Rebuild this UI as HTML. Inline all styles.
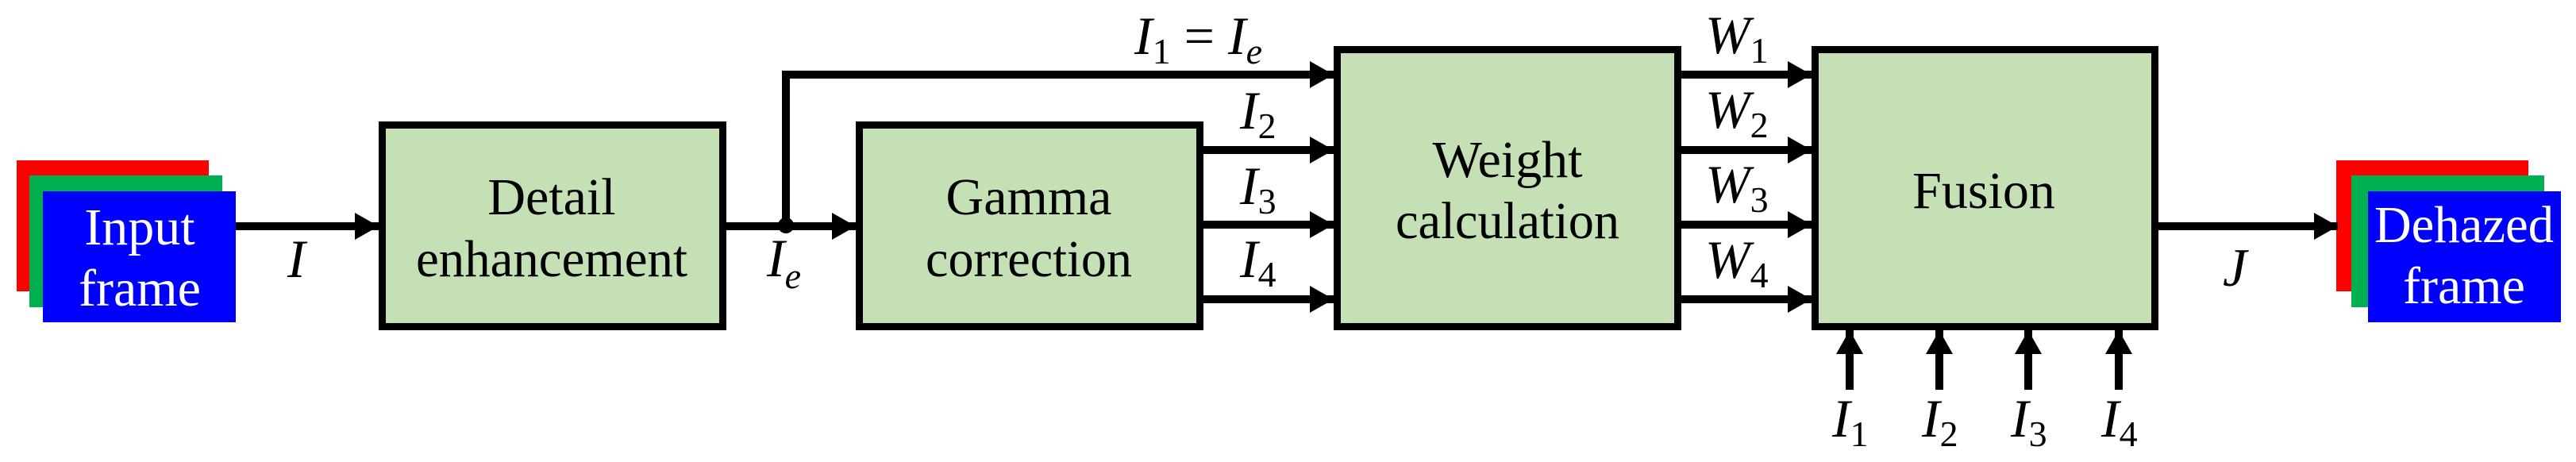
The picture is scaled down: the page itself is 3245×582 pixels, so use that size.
<!DOCTYPE html>
<html><head><meta charset="utf-8"><style>
html,body{margin:0;padding:0;background:#fff;}
svg{display:block}
svg text{font-family:"Liberation Serif","Times New Roman",Times,"DejaVu Serif","Noto Serif CJK SC",serif;}
</style></head><body>
<svg width="3245" height="582" viewBox="0 0 3245 582" xmlns="http://www.w3.org/2000/svg">
<defs>
<marker id="a" viewBox="0 0 30 34" refX="30" refY="17" markerWidth="30" markerHeight="34" markerUnits="userSpaceOnUse" orient="auto"><path d="M0,0 L30,17 L0,34 Z" fill="#000"/></marker>
</defs>
<rect x="21" y="202" width="242" height="165" fill="#ff0000"/>
<rect x="37" y="221" width="243" height="166" fill="#00b050"/>
<rect x="54" y="241" width="243" height="165" fill="#0000ff"/>
<g font-size="66" text-anchor="middle" fill="#fff">
<text x="176" y="308">Input</text>
<text x="176" y="385">frame</text>
</g>
<rect x="2943" y="202" width="242" height="165" fill="#ff0000"/>
<rect x="2962" y="221" width="243" height="166" fill="#00b050"/>
<rect x="2983" y="241" width="243" height="165" fill="#0000ff"/>
<g font-size="66" text-anchor="middle" fill="#fff">
<text x="3104" y="305" textLength="226" lengthAdjust="spacingAndGlyphs">Dehazed</text>
<text x="3104" y="382">frame</text>
</g>
<g fill="#c5e0b4" stroke="#000" stroke-width="9">
<rect x="481.5" y="157.5" width="429" height="254"/>
<rect x="1082.5" y="157.5" width="429" height="254"/>
<rect x="1684.5" y="62.5" width="429" height="349"/>
<rect x="2286.5" y="62.5" width="428" height="349"/>
</g>
<g font-size="66" text-anchor="middle" fill="#000">
<text x="695" y="270">Detail</text>
<text x="695" y="348" textLength="342" lengthAdjust="spacingAndGlyphs">enhancement</text>
<text x="1296" y="270">Gamma</text>
<text x="1296" y="348" textLength="260" lengthAdjust="spacingAndGlyphs">correction</text>
<text x="1899" y="223">Weight</text>
<text x="1899" y="300" textLength="282" lengthAdjust="spacingAndGlyphs">calculation</text>
<text x="2499" y="262">Fusion</text>
</g>
<g stroke="#000" stroke-width="10" fill="none">
<line x1="297" y1="285" x2="477" y2="285" marker-end="url(#a)"/>
<line x1="915" y1="285" x2="1078" y2="285" marker-end="url(#a)"/>
<polyline points="990,285 990,94 1680,94" marker-end="url(#a)"/>
<line x1="1516" y1="189" x2="1680" y2="189" marker-end="url(#a)"/>
<line x1="1516" y1="283" x2="1680" y2="283" marker-end="url(#a)"/>
<line x1="1516" y1="377" x2="1680" y2="377" marker-end="url(#a)"/>
<line x1="2118" y1="94" x2="2282" y2="94" marker-end="url(#a)"/>
<line x1="2118" y1="189" x2="2282" y2="189" marker-end="url(#a)"/>
<line x1="2118" y1="283" x2="2282" y2="283" marker-end="url(#a)"/>
<line x1="2118" y1="377" x2="2282" y2="377" marker-end="url(#a)"/>
<line x1="2719" y1="285" x2="2945" y2="285" marker-end="url(#a)"/>
<line x1="2330" y1="491" x2="2330" y2="416" marker-end="url(#a)"/>
<line x1="2443" y1="491" x2="2443" y2="416" marker-end="url(#a)"/>
<line x1="2555" y1="491" x2="2555" y2="416" marker-end="url(#a)"/>
<line x1="2669" y1="491" x2="2669" y2="416" marker-end="url(#a)"/>
</g>
<circle cx="990" cy="284" r="10" fill="#000"/>
<g font-size="68" font-style="italic" fill="#000">
<text x="362" y="349">I</text>
<text x="966" y="348">I<tspan font-size="46" dy="15">e</tspan></text>
<text x="1429" y="68">I<tspan font-size="46" font-style="normal" dy="12">1</tspan><tspan dy="-12" font-style="normal"> = </tspan>I<tspan font-size="46" dy="12">e</tspan></text>
<text x="1562" y="162">I<tspan font-size="46" font-style="normal" dy="12">2</tspan></text>
<text x="1562" y="257">I<tspan font-size="46" font-style="normal" dy="12">3</tspan></text>
<text x="1562" y="349">I<tspan font-size="46" font-style="normal" dy="12">4</tspan></text>
<text x="2148" y="67">W<tspan font-size="46" font-style="normal" dy="12">1</tspan></text>
<text x="2148" y="161">W<tspan font-size="46" font-style="normal" dy="12">2</tspan></text>
<text x="2148" y="255">W<tspan font-size="46" font-style="normal" dy="12">3</tspan></text>
<text x="2148" y="350">W<tspan font-size="46" font-style="normal" dy="12">4</tspan></text>
<text x="2800" y="360">J</text>
<text x="2308" y="550">I<tspan font-size="46" font-style="normal" dy="12">1</tspan></text>
<text x="2421" y="550">I<tspan font-size="46" font-style="normal" dy="12">2</tspan></text>
<text x="2533" y="550">I<tspan font-size="46" font-style="normal" dy="12">3</tspan></text>
<text x="2647" y="550">I<tspan font-size="46" font-style="normal" dy="12">4</tspan></text>
</g>
</svg>
</body></html>
